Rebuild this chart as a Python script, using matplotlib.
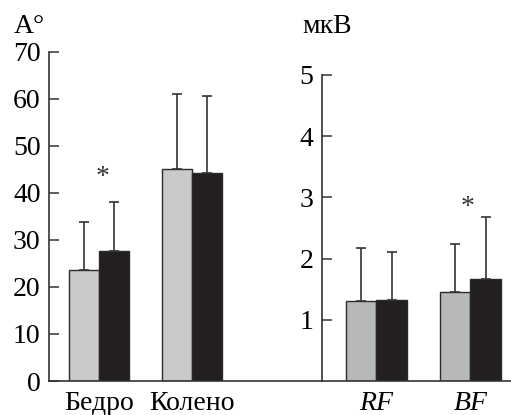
import numpy as np
import matplotlib.pyplot as plt

plt.rcParams['font.family'] = ['Liberation Serif', 'DejaVu Serif']

# angle data (left panel)
angle_groups = ['Бедро', 'Колено']
angle_light = [23.7, 45.0]
angle_light_err = [10.0, 16.0]
angle_dark = [27.6, 44.2]
angle_dark_err = [10.4, 16.4]

# EMG data (right panel)
emg_groups = ['RF', 'BF']
emg_light = [1.30, 1.45]
emg_light_err = [0.87, 0.79]
emg_dark = [1.33, 1.67]
emg_dark_err = [0.77, 1.01]

W, H = 511, 415
fig = plt.figure(figsize=(W / 100, H / 100), dpi=100)

bot = 1 - 381 / H
top = 1 - 40 / H
ax1 = fig.add_axes([49 / W, bot, (322 - 49) / W, top - bot])
ax2 = fig.add_axes([322 / W, bot, (W - 322) / W, top - bot])

bw = 0.324
edge = '#2a2a2a'
fs = 20
err_kw = dict(ecolor='#333333', elinewidth=1.2, capsize=3.6, capthick=1.2)


def draw(ax, groups, light, lerr, dark, derr, light_col):
    x = np.arange(len(groups))
    ax.bar(x - bw / 2, light, bw, color=light_col, edgecolor=edge, linewidth=1.0,
           yerr=[np.zeros(len(x)), lerr], error_kw=err_kw, zorder=2)
    ax.bar(x + bw / 2, dark, bw, color='#231f20', edgecolor=edge, linewidth=1.0,
           yerr=[np.zeros(len(x)), derr], error_kw=err_kw, zorder=2)
    ax.set_xticks(x)
    for s in ['top', 'right']:
        ax.spines[s].set_visible(False)
    for s in ['left', 'bottom']:
        ax.spines[s].set_color('#333333')
        ax.spines[s].set_linewidth(1.2)
    ax.tick_params(axis='x', length=0, pad=7, labelsize=fs)
    ax.tick_params(axis='y', direction='in', length=7, width=1.1, color='#333333',
                   pad=6, labelsize=fs)


draw(ax1, angle_groups, angle_light, angle_light_err, angle_dark, angle_dark_err, '#c9cacc')
ax1.set_xticklabels(angle_groups)
ax1.set_xlim(-0.543, 2.402)
ax1.set_ylim(0, 72.5)
ax1.set_yticks(range(0, 71, 10))
ax1.spines['left'].set_bounds(0, 70)
ax1.text(0.03, 41.9, '*', ha='center', va='baseline', fontsize=fs, color='#333333')

draw(ax2, emg_groups, emg_light, emg_light_err, emg_dark, emg_dark_err, '#b7b8ba')
ax2.set_xticklabels(emg_groups, style='italic')
ax2.set_xlim(-0.578, 1.433)
ax2.set_ylim(0, 5.57)
ax2.set_yticks([1, 2, 3, 4, 5])
ax2.spines['left'].set_bounds(0, 5)
ax2.text(0.97, 2.73, '*', ha='center', va='baseline', fontsize=fs, color='#333333')

fig.text(14 / W, 1 - 33 / H, 'A°', fontsize=fs, ha='left', va='baseline')
fig.text(302 / W, 1 - 33 / H, 'мкВ', fontsize=fs, ha='left', va='baseline')

fig.savefig('out.png', dpi=100)
